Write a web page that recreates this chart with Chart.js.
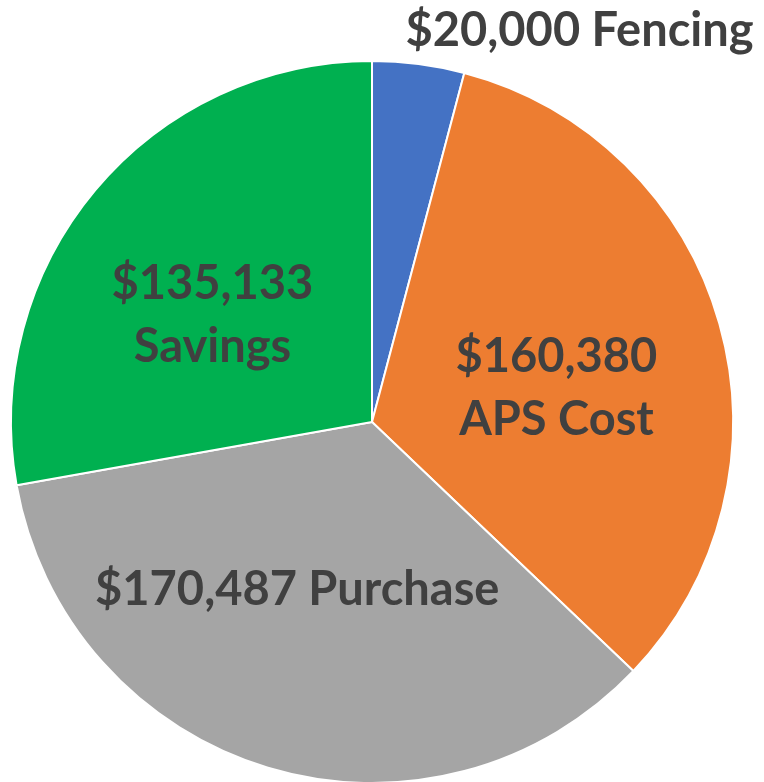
<!DOCTYPE html>
<html>
<head>
<meta charset="utf-8">
<script src="https://cdn.jsdelivr.net/npm/chart.js@4/dist/chart.umd.min.js"></script>
<style>
html,body{margin:0;padding:0;background:#fff;overflow:hidden;}
#wrap{position:absolute;left:0;top:0;width:764px;height:786px;}
</style>
</head>
<body>
<div id="wrap"><canvas id="c"></canvas></div>
<script>
const categories = ["Fencing", "APS Cost", "Purchase", "Savings"];
const values = [20000, 160380, 170487, 135133];
const labelLines = [
  ["$20,000 Fencing"],
  ["$160,380", "APS Cost"],
  ["$170,487 Purchase"],
  ["$135,133", "Savings"]
];
const colors = ["#4472C4", "#ED7D31", "#A5A5A5", "#00B050"];

// label anchor relative to pie centre, in units of the radius
const labelAnchors = [[0.575, -1.083], [0.511, -0.094], [-0.207, 0.464], [-0.442, -0.296]];

const labelPlugin = {
  id: 'sliceLabels',
  afterDatasetsDraw(chart) {
    const ctx = chart.ctx;
    const meta = chart.getDatasetMeta(0);
    ctx.save();
    ctx.font = "bold 47px Lato";
    ctx.fillStyle = "#404040";
    ctx.textAlign = "center";
    ctx.textBaseline = "middle";
    meta.data.forEach((arc, i) => {
      const cx = arc.x, cy = arc.y, r = arc.outerRadius;
      const x = cx + labelAnchors[i][0] * r;
      const y = cy + labelAnchors[i][1] * r;
      const lines = labelLines[i];
      const lh = 63;
      const y0 = y - (lines.length - 1) * lh / 2;
      lines.forEach((t, k) => ctx.fillText(t, x, y0 + k * lh));
    });
    ctx.restore();
  }
};

new Chart(document.getElementById('c'), {
  type: 'pie',
  data: {
    labels: categories,
    datasets: [{
      data: values,
      backgroundColor: colors,
      borderColor: "#ffffff",
      borderWidth: 2,
      hoverOffset: 0
    }]
  },
  options: {
    responsive: true,
    maintainAspectRatio: false,
    animation: false,
    layout: { padding: { top: 60, left: 10, right: 30, bottom: 2 } },
    plugins: { legend: { display: false }, tooltip: { enabled: false } }
  },
  plugins: [labelPlugin]
});
</script>
</body>
</html>
